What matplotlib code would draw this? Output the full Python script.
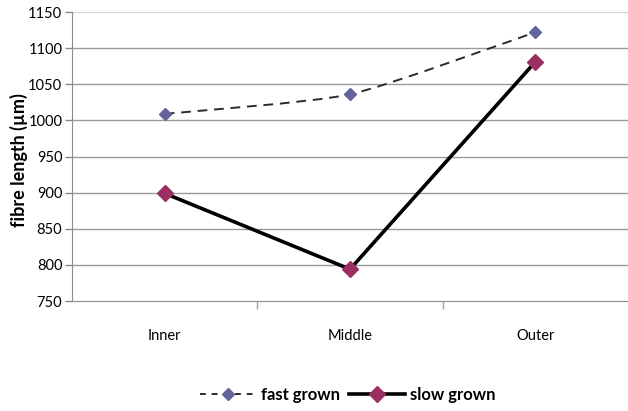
import matplotlib
matplotlib.use("Agg")
import matplotlib.pyplot as plt
from matplotlib.path import Path
from matplotlib.patches import PathPatch
from matplotlib.lines import Line2D
import numpy as np

categories = ["Inner", "Middle", "Outer"]
fast_grown = [1009, 1036, 1122]
slow_grown = [899, 794, 1081]
y_ticks = [750, 800, 850, 900, 950, 1000, 1050, 1100, 1150]

plt.rcParams["font.family"] = ["Lato", "DejaVu Sans"]

fig = plt.figure(figsize=(6.28, 4.11), dpi=100)
ax = fig.add_axes([72 / 628, 1 - 301 / 411, 1 - 72 / 628, (301 - 12) / 411])

x = np.arange(len(categories))


def smooth_path(xs, ys, tension=10.0):
    """Cubic Bezier path through the points (Catmull-Rom style tangents)."""
    pts = np.column_stack([xs, ys]).astype(float)
    n = len(pts)
    verts = [pts[0]]
    codes = [Path.MOVETO]
    for i in range(n - 1):
        p0 = pts[i - 1] if i > 0 else pts[i]
        p1 = pts[i]
        p2 = pts[i + 1]
        p3 = pts[i + 2] if i + 2 < n else pts[i + 1]
        c1 = p1 + (p2 - p0) / tension
        c2 = p2 - (p3 - p1) / tension
        verts += [c1, c2, p2]
        codes += [Path.CURVE4] * 3
    return Path(verts, codes)


fast_color = "#62639b"
slow_color = "#9b2f63"
dash_color = "#2b2b2b"

ax.add_patch(PathPatch(smooth_path(x, fast_grown), facecolor="none",
                       edgecolor=dash_color, lw=1.4, linestyle=(0, (5, 3.5)),
                       zorder=3))
ax.plot(x, fast_grown, linestyle="none", marker="D", ms=6.5,
        color=fast_color, zorder=4)
ax.plot(x, slow_grown, color="black", lw=2.6, marker="D", ms=8.5,
        markerfacecolor=slow_color, markeredgecolor=slow_color, zorder=5)

ax.set_xlim(-0.5, 2.5)
ax.set_ylim(750, 1150)
ax.set_yticks(y_ticks)
ax.set_yticklabels([str(v) for v in y_ticks], fontsize=10.5)
ax.set_xticks(x)
ax.set_xticklabels(categories, fontsize=10.5)
ax.tick_params(axis="x", length=0, pad=20)
ax.set_xticks([0.5, 1.5], minor=True)
ax.tick_params(axis="x", which="minor", length=6, color="#a0a0a0", width=1)
ax.tick_params(axis="y", length=5, color="#888888", width=1, pad=2)

for v in y_ticks[1:]:
    ax.axhline(v, color="#9a9a9a" if v != 1150 else "#d8d8d8", lw=1, zorder=1)

for s in ["top", "right"]:
    ax.spines[s].set_visible(False)
ax.spines["left"].set_color("#8c8c8c")
ax.spines["bottom"].set_color("#8c8c8c")

ax.set_ylabel("fibre length (µm)", fontsize=13, fontweight="bold")
ax.yaxis.set_label_coords(-0.08, 0.488)

handles = [
    Line2D([], [], color=dash_color, lw=1.4, linestyle=(0, (3, 3)),
           marker="D", ms=6.5, markerfacecolor=fast_color,
           markeredgecolor=fast_color),
    Line2D([], [], color="black", lw=2.6, marker="D", ms=8.5,
           markerfacecolor=slow_color, markeredgecolor=slow_color),
]
fig.legend(handles, ["fast grown", "slow grown"], loc="center",
           bbox_to_anchor=(0.554, 1 - 395 / 411), ncol=2, frameon=False,
           handlelength=3.4, handletextpad=0.3, columnspacing=0.5,
           prop={"weight": "bold", "size": 12})

fig.savefig("out.png", dpi=100)
